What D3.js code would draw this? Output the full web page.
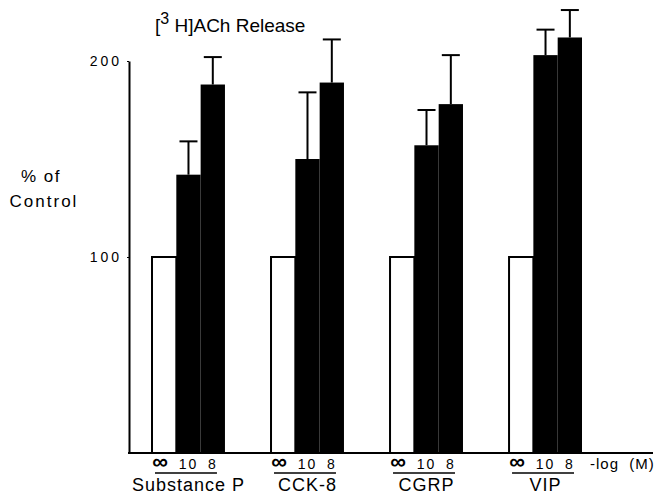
<!DOCTYPE html>
<html>
<head>
<meta charset="utf-8">
<script src="https://cdn.jsdelivr.net/npm/d3@7"></script>
<style>
  body { margin: 0; background: #fff; }
  svg { display: block; }
  text { font-family: "Liberation Sans", Arial, sans-serif; fill: #000; }
</style>
</head>
<body>
<div id="chartDiv"></div>
<script>
'use strict';

// chart values
const groups = ['Substance P', 'CCK-8', 'CGRP', 'VIP'];
const doseLabels = ['\u221E', '10', '8'];          // -log (M)
const controlValues = [100, 100, 100, 100];
const dose10Values = [142, 150, 157, 203];
const dose8Values = [188, 189, 178, 212];
const dose10Errors = [17, 34, 18, 13];
const dose8Errors = [14, 22, 25, 14];
const yTicks = [100, 200];

const W = 667, H = 496;

const svg = d3.select('#chartDiv').append('svg')
    .attr('width', W)
    .attr('height', H);

// scales
const yScale = d3.scaleLinear().domain([0, 200]).range([453, 61]);

const xGroup = d3.scaleBand()
    .domain(groups)
    .range([152, 582])
    .paddingInner(0.387)
    .paddingOuter(0);

const xDose = d3.scaleBand()
    .domain(d3.range(doseLabels.length))
    .range([0, xGroup.bandwidth()]);

// build rows for bars
const rows = [];
groups.forEach((g, i) => {
    rows.push({ group: g, dose: 0, value: controlValues[i], err: 0 });
    rows.push({ group: g, dose: 1, value: dose10Values[i], err: dose10Errors[i] });
    rows.push({ group: g, dose: 2, value: dose8Values[i], err: dose8Errors[i] });
});

const barX = d => xGroup(d.group) + xDose(d.dose);

// bars
svg.append('g').selectAll('rect')
    .data(rows)
    .join('rect')
    .attr('x', d => barX(d))
    .attr('y', d => yScale(d.value))
    .attr('width', xDose.bandwidth())
    .attr('height', d => yScale(0) - yScale(d.value))
    .attr('fill', d => d.dose === 0 ? '#fff' : '#000')
    .attr('stroke', '#000')
    .attr('stroke-width', d => d.dose === 0 ? 2 : 0);

// error bars (upward only)
const errRows = rows.filter(d => d.err > 0);
const eb = svg.append('g').attr('stroke', '#000').attr('stroke-width', 2);
eb.selectAll('line.v')
    .data(errRows)
    .join('line')
    .attr('class', 'v')
    .attr('x1', d => barX(d) + xDose.bandwidth() / 2)
    .attr('x2', d => barX(d) + xDose.bandwidth() / 2)
    .attr('y1', d => yScale(d.value))
    .attr('y2', d => yScale(d.value + d.err));
eb.selectAll('line.cap')
    .data(errRows)
    .join('line')
    .attr('class', 'cap')
    .attr('x1', d => barX(d) + xDose.bandwidth() / 2 - 9)
    .attr('x2', d => barX(d) + xDose.bandwidth() / 2 + 9)
    .attr('y1', d => yScale(d.value + d.err))
    .attr('y2', d => yScale(d.value + d.err));

// y axis
const yAxis = svg.append('g')
    .attr('transform', 'translate(129,0)')
    .call(d3.axisLeft(yScale).tickValues(yTicks).tickSize(2).tickSizeOuter(0).tickPadding(5));
yAxis.select('.domain').attr('stroke-width', 2);
yAxis.selectAll('text')
    .style('font-size', '14px')
    .style('letter-spacing', '3px')
    .attr('dy', '0.35em');

// baseline
svg.append('line')
    .attr('x1', 128).attr('x2', 653)
    .attr('y1', yScale(0)).attr('y2', yScale(0))
    .attr('stroke', '#000').attr('stroke-width', 2);

// dose labels under bars
svg.append('g').selectAll('text')
    .data(rows)
    .join('text')
    .attr('x', d => barX(d) + xDose.bandwidth() / 2 - (d.dose === 0 ? 3 : 0))
    .attr('y', 469)
    .attr('text-anchor', 'middle')
    .style('font-size', d => d.dose === 0 ? '22px' : '14px')
    .style('font-weight', d => d.dose === 0 ? 'bold' : 'normal')
    .style('letter-spacing', '2px')
    .text(d => doseLabels[d.dose]);

// rule and group names
const gl = svg.append('g').selectAll('g')
    .data(groups)
    .join('g');
gl.append('line')
    .attr('x1', d => xGroup(d) + 3)
    .attr('x2', d => xGroup(d) + xGroup.bandwidth() - 8)
    .attr('y1', 473).attr('y2', 473)
    .attr('stroke', '#000').attr('stroke-width', 1.5);
gl.append('text')
    .attr('x', d => xGroup(d) + xGroup.bandwidth() / 2)
    .attr('y', 491)
    .attr('text-anchor', 'middle')
    .style('font-size', '18px')
    .style('letter-spacing', '1px')
    .text(d => d);

svg.append('text')
    .attr('x', 590).attr('y', 469)
    .style('font-size', '15px')
    .style('letter-spacing', '1px')
    .attr('xml:space', 'preserve')
    .text('-log  (M)');

// title
const title = svg.append('text')
    .attr('x', 155).attr('y', 32)
    .style('font-size', '19px');
title.append('tspan').text('[');
title.append('tspan').attr('dy', -8).style('font-size', '16px').text('3');
title.append('tspan').attr('dy', 8).text('\u00A0H]ACh Release');

// y label
svg.append('text')
    .attr('x', 41).attr('y', 182)
    .attr('text-anchor', 'middle')
    .style('font-size', '17px')
    .style('letter-spacing', '1.5px')
    .text('% of');
svg.append('text')
    .attr('x', 44).attr('y', 207)
    .attr('text-anchor', 'middle')
    .style('font-size', '17px')
    .style('letter-spacing', '2px')
    .text('Control');
</script>
</body>
</html>
